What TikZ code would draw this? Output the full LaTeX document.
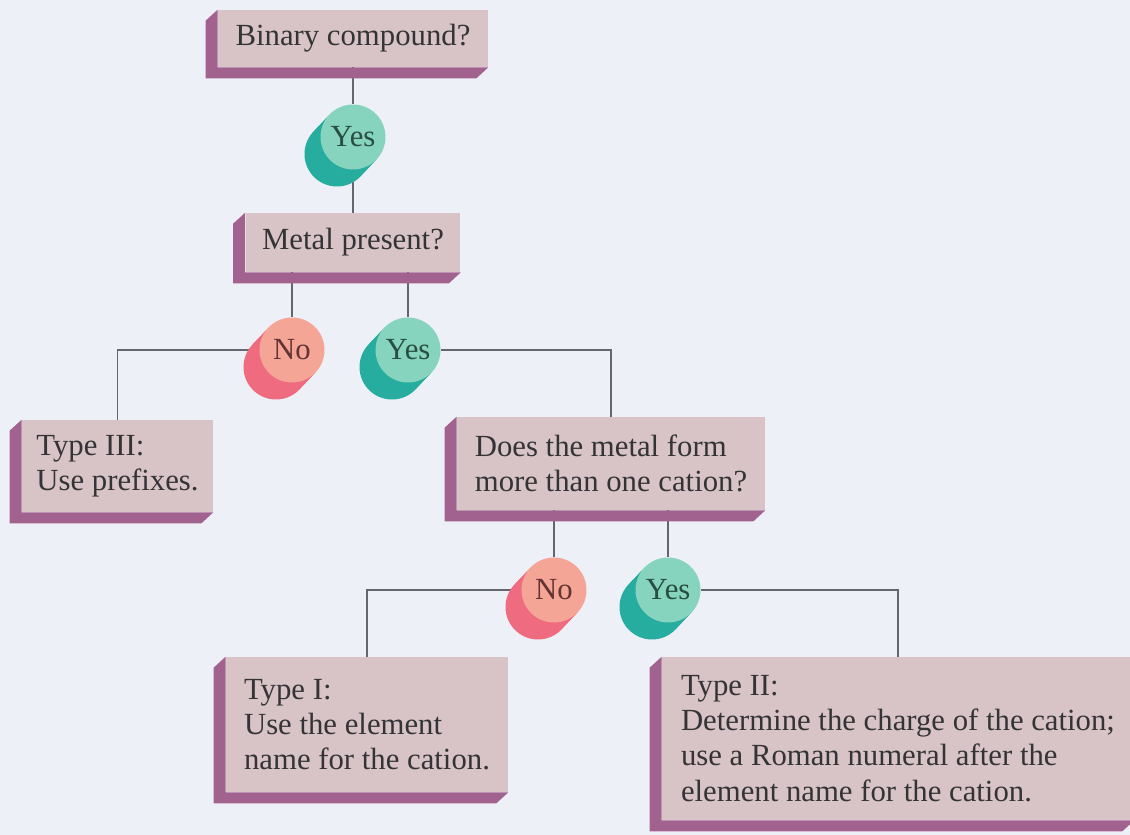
\documentclass[tikz,border=0pt]{standalone}
\usepackage{fontspec}
\setmainfont{Liberation Serif}
\usetikzlibrary{shadows,backgrounds}
\definecolor{paper}{RGB}{238,240,247}
\definecolor{boxface}{RGB}{216,196,199}
\definecolor{boxside}{RGB}{161,98,143}
\definecolor{yesface}{RGB}{134,212,189}
\definecolor{yesside}{RGB}{39,173,160}
\definecolor{noface}{RGB}{244,165,150}
\definecolor{noside}{RGB}{238,107,128}
\definecolor{ink}{RGB}{52,52,54}
\definecolor{yesink}{RGB}{40,78,66}
\definecolor{noink}{RGB}{100,52,52}
\definecolor{wire}{RGB}{100,102,112}
\newcommand{\slab}[1]{\fill[boxside] (#1.north west) -- ++(-12,11) -- ([shift={(-12,11)}]#1.south west) -- ([shift={(-12,11)}]#1.south east) -- (#1.south east) -- (#1.south west) -- cycle;}

\begin{document}
\begin{tikzpicture}[x=0.02cm, y=-0.02cm,
  box/.style={rectangle, fill=boxface, text=ink, align=left, inner sep=0pt, font=\fontsize{17.5}{20}\selectfont},
  coin/.style 2 args={circle, fill=#1, minimum size=1.3cm, inner sep=0pt, font=\fontsize{17.5}{20}\selectfont,
    general shadow={fill=#2, shadow xshift=-0.053cm, shadow yshift=-0.057cm},
    general shadow={fill=#2, shadow xshift=-0.107cm, shadow yshift=-0.113cm},
    general shadow={fill=#2, shadow xshift=-0.16cm, shadow yshift=-0.17cm},
    general shadow={fill=#2, shadow xshift=-0.213cm, shadow yshift=-0.227cm},
    general shadow={fill=#2, shadow xshift=-0.267cm, shadow yshift=-0.283cm},
    general shadow={fill=#2, shadow xshift=-0.32cm, shadow yshift=-0.34cm}},
  yesdisc/.style={coin={yesface}{yesside}, text=yesink},
  nodisc/.style={coin={noface}{noside}, text=noink},
  link/.style={draw=wire, line width=1pt}]
\useasboundingbox (0,0) rectangle (1130,835);

\node (binary) at (353,38.5) [box, minimum width=5.4cm, minimum height=1.14cm] {Binary compound?};
	\node (yes1) at (353,137) [yesdisc] {Yes};
\node (metal) at (353,242.5) [box, minimum width=4.3cm, minimum height=1.18cm] {Metal present?};
	\node (no1) at (292,350) [nodisc] {No};
	\node (yes2) at (408,350) [yesdisc] {Yes};
\node (typeIII) at (117.5,466) [box, minimum width=3.82cm, minimum height=1.84cm] {Type III:\\Use prefixes.};
\node (cation) at (611,463.5) [box, minimum width=6.16cm, minimum height=1.86cm] {Does the metal form\\more than one cation?};
	\node (no2) at (554,590) [nodisc] {No};
	\node (yes3) at (668,590) [yesdisc] {Yes};
\node (typeI) at (367,724.5) [box, minimum width=5.64cm, minimum height=2.7cm] {Type I:\\Use the element\\name for the cation.};
\node (typeII) at (898,738.5) [box, minimum width=9.44cm, minimum height=3.26cm] {Type II:\\Determine the charge of the cation;\\use a Roman numeral after the\\element name for the cation.};

\foreach \b in {binary,metal,typeIII,cation,typeI,typeII} \slab{\b};

\begin{pgfonlayer}{background}
\fill[paper] (0,0) rectangle (1130,835);
\draw[link] (binary) -- (yes1);
\draw[link] (yes1) -- (metal);
\draw[link] (metal.south -| no1) -- (no1);
\draw[link] (metal.south -| yes2) -- (yes2);
\draw[link] (no1) -| (typeIII);
\draw[link] (yes2) -| (cation);
\draw[link] (cation.south -| no2) -- (no2);
\draw[link] (cation.south -| yes3) -- (yes3);
\draw[link] (no2) -| (typeI);
\draw[link] (yes3) -| (typeII);
\end{pgfonlayer}
\end{tikzpicture}
\end{document}
